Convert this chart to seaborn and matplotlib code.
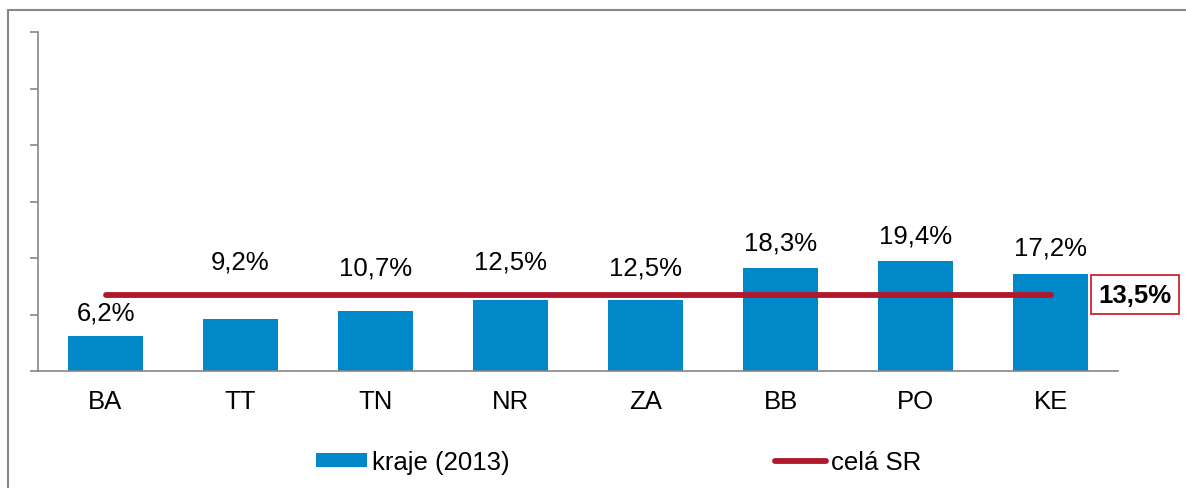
import seaborn as sns
import matplotlib.pyplot as plt
import pandas as pd
import numpy as np
from matplotlib.lines import Line2D
from matplotlib.patches import Patch

# Data
regions = ['BA', 'TT', 'TN', 'NR', 'ZA', 'BB', 'PO', 'KE']
rates = [6.2, 9.2, 10.7, 12.5, 12.5, 18.3, 19.4, 17.2]
national = 13.5
label_y = [10.4, 19.3, 18.4, 19.3, 18.4, 22.8, 23.9, 21.9]

df = pd.DataFrame({'kraj': regions, 'podiel': rates})

sns.set_style('white')
plt.rcParams['font.family'] = ['Liberation Sans', 'DejaVu Sans']
plt.rcParams['text.color'] = 'black'
plt.rcParams['xtick.labelcolor'] = 'black'

blue = '#0088C8'
red = '#B0182B'
grey = '#868686'
fs = 18.5

fig = plt.figure(figsize=(11.86, 4.89), dpi=100)
ax = fig.add_axes([38 / 1186, 1 - 372 / 489, 1080 / 1186, 339 / 489])

sns.barplot(data=df, x='kraj', y='podiel', color=blue, width=0.56,
            saturation=1, ax=ax, edgecolor='none')

x = np.arange(len(regions))
ax.plot(x, [national] * len(regions), color=red, lw=4.2, solid_capstyle='round', zorder=3)

for xi, v, ly in zip(x, rates, label_y):
    ax.text(xi, ly, f'{v:.1f}%'.replace('.', ','), ha='center', va='center',
            fontsize=fs, color='black')

ax.text(7.356, national, f'{national:.1f}%'.replace('.', ','),
        ha='left', va='center', fontsize=fs, fontweight='bold', color='black', clip_on=False,
        bbox=dict(boxstyle='square,pad=0.3', fc='white', ec='#CC1020', lw=1.2))

ax.set_xlim(-0.5, len(regions) - 0.5)
ax.set_ylim(0, 60)
ax.set_yticks(np.arange(0, 61, 10))
ax.set_yticklabels([])
ax.set_xlabel('')
ax.set_ylabel('')
ax.set_xticks(x)
ax.set_xticks(np.arange(-0.5, len(regions), 1), minor=True)
ax.tick_params(axis='x', which='major', length=0, labelsize=fs, pad=13, labelcolor='black')
ax.tick_params(axis='x', which='minor', length=5, color=grey, width=1.2, direction='out')
ax.tick_params(axis='y', length=6, color=grey, width=1.2, direction='out', left=True)

for s in ['top', 'right']:
    ax.spines[s].set_visible(False)
for s in ['left', 'bottom']:
    ax.spines[s].set_color(grey)
    ax.spines[s].set_linewidth(1.2)

# legend
handles = [Patch(facecolor=blue, edgecolor='none'),
           Line2D([0], [0], color=red, lw=4.2, solid_capstyle='round')]
leg = fig.legend(handles, ['kraje (2013)', 'celá SR'], loc='center', ncol=2,
                 bbox_to_anchor=(0.5215, 1 - 463 / 489), frameon=False, fontsize=fs,
                 handlelength=2.0, handleheight=0.5, handletextpad=0.2, columnspacing=10.3)
for t in leg.get_texts():
    t.set_color('black')

# outer chart frame
fig.add_artist(Line2D([8 / 1186, 8 / 1186], [0, 1 - 11 / 489], color=grey, lw=1.5))
fig.add_artist(Line2D([8 / 1186, 1], [1 - 11 / 489, 1 - 11 / 489], color=grey, lw=1.5))

fig.savefig('out.png', dpi=100)
